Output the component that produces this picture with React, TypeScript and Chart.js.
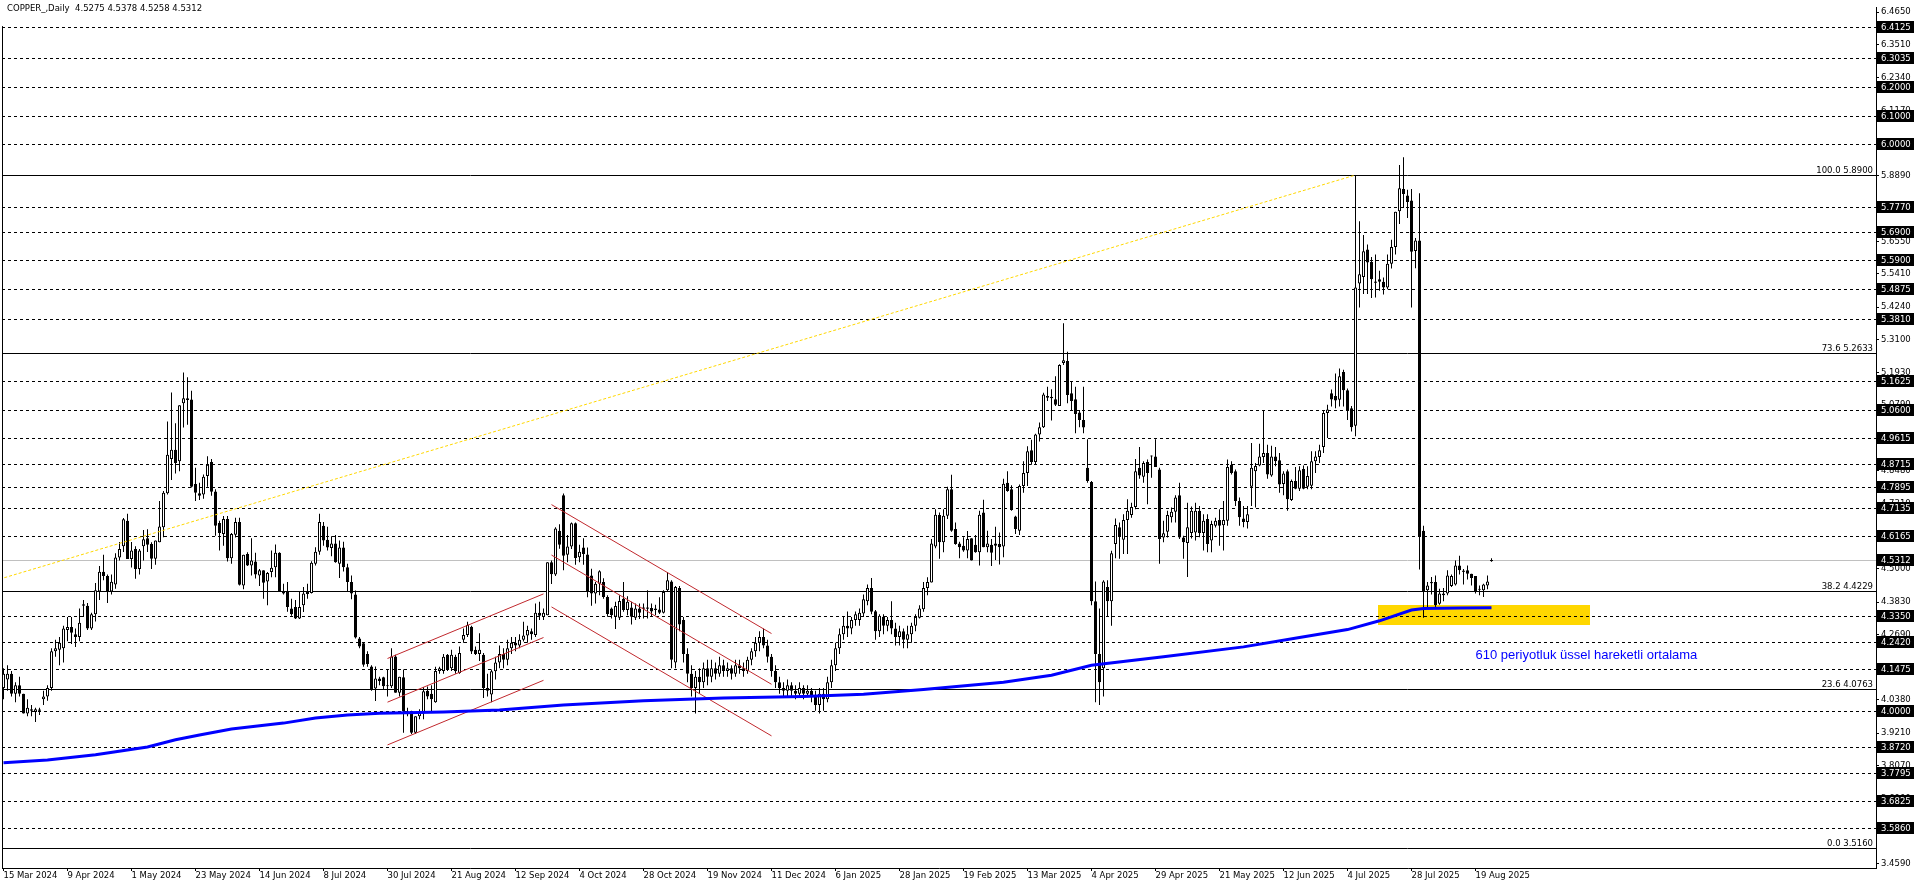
import React, { useEffect, useRef } from 'react';
import { Chart, registerables } from 'chart.js';

Chart.register(...registerables);

const symbolTitle = 'COPPER_,Daily  4.5275 4.5378 4.5258 4.5312';

// Daily bars [open, high, low, close]; bar 0 = 15 Mar 2024
const candles: number[][] = [
  // 0
  [4.08,4.15,4.04,4.13],[4.11,4.16,4.07,4.13],[4.13,4.14,4.05,4.06],[4.06,4.10,4.03,4.09],[4.09,4.12,4.05,4.06],
  [4.06,4.06,3.99,3.99],[3.99,4.04,3.98,4.01],[4.005,4.02,3.98,4.0],[3.995,4.01,3.96,4.005],[4.0,4.01,3.985,4.0],
  // 10
  [4.04,4.07,4.02,4.05],[4.05,4.09,4.035,4.08],[4.08,4.22,4.07,4.21],[4.21,4.25,4.19,4.22],[4.215,4.26,4.16,4.24],
  [4.22,4.30,4.17,4.29],[4.285,4.33,4.245,4.295],[4.295,4.33,4.235,4.275],[4.27,4.29,4.225,4.26],[4.26,4.36,4.245,4.31],
  // 20
  [4.375,4.39,4.33,4.37],[4.37,4.38,4.285,4.29],[4.29,4.345,4.285,4.34],[4.34,4.45,4.315,4.425],[4.42,4.51,4.39,4.49],
  [4.49,4.55,4.46,4.475],[4.475,4.48,4.38,4.42],[4.42,4.48,4.41,4.455],[4.445,4.555,4.43,4.54],[4.54,4.595,4.53,4.57],
  // 30
  [4.58,4.68,4.56,4.675],[4.67,4.695,4.535,4.535],[4.535,4.595,4.505,4.565],[4.57,4.58,4.465,4.5],[4.5,4.57,4.48,4.565],
  [4.58,4.637,4.53,4.605],[4.608,4.64,4.56,4.585],[4.588,4.594,4.5,4.536],[4.536,4.6,4.515,4.6],[4.594,4.74,4.594,4.65],
  // 40
  [4.647,4.775,4.612,4.769],[4.767,5.02,4.763,4.903],[4.888,5.123,4.814,4.921],[4.921,5.014,4.837,4.874],[4.88,5.078,4.845,5.078],
  [5.085,5.193,4.999,5.102],[5.102,5.176,5.009,5.096],[5.098,5.129,4.787,4.79],[4.8,4.857,4.74,4.769],[4.767,4.804,4.743,4.758],
  // 50
  [4.763,4.833,4.748,4.825],[4.828,4.898,4.79,4.868],[4.877,4.888,4.758,4.772],[4.773,4.781,4.617,4.652],[4.662,4.67,4.565,4.627],
  [4.623,4.687,4.582,4.676],[4.676,4.687,4.526,4.538],[4.538,4.627,4.518,4.623],[4.621,4.681,4.611,4.666],[4.666,4.681,4.442,4.444],
  // 60
  [4.442,4.55,4.428,4.55],[4.553,4.559,4.51,4.512],[4.512,4.608,4.477,4.53],[4.526,4.557,4.466,4.48],[4.477,4.5,4.44,4.495],
  [4.495,4.495,4.395,4.451],[4.456,4.489,4.372,4.486],[4.489,4.565,4.471,4.504],[4.506,4.586,4.471,4.557],[4.557,4.559,4.419,4.421],
  // 70
  [4.421,4.448,4.41,4.413],[4.419,4.454,4.349,4.366],[4.36,4.395,4.335,4.34],[4.366,4.39,4.323,4.325],[4.325,4.42,4.323,4.366],
  [4.372,4.436,4.348,4.413],[4.412,4.448,4.395,4.419],[4.415,4.527,4.413,4.522],[4.518,4.577,4.512,4.561],[4.561,4.695,4.55,4.666],
  // 80
  [4.652,4.666,4.582,4.6],[4.603,4.649,4.565,4.576],[4.574,4.615,4.545,4.59],[4.59,4.62,4.522,4.524],[4.518,4.6,4.468,4.576],
  [4.576,4.596,4.491,4.506],[4.506,4.518,4.421,4.454],[4.454,4.477,4.393,4.413],[4.41,4.424,4.255,4.258],[4.255,4.26,4.22,4.226],
  // 90
  [4.238,4.24,4.155,4.162],[4.2,4.21,4.155,4.165],[4.156,4.16,4.07,4.074],[4.078,4.156,4.034,4.113],[4.113,4.12,4.09,4.105],
  [4.118,4.12,4.074,4.086],[4.086,4.145,4.05,4.09],[4.086,4.22,4.08,4.191],[4.191,4.197,4.063,4.063],[4.063,4.12,4.05,4.12],
  // 100
  [4.118,4.145,3.922,3.998],[3.998,4.01,3.98,3.987],[3.998,4.0,3.918,3.922],[3.922,3.98,3.918,3.98],[3.98,4.005,3.97,3.998],
  [3.99,4.083,3.97,4.068],[4.07,4.085,4.04,4.05],[4.06,4.09,3.998,4.04],[4.03,4.155,4.028,4.14],[4.14,4.155,4.13,4.15],
  // 110
  [4.14,4.2,4.13,4.19],[4.197,4.2,4.14,4.145],[4.15,4.215,4.14,4.197],[4.19,4.197,4.13,4.139],[4.133,4.226,4.13,4.203],
  [4.25,4.29,4.24,4.267],[4.267,4.314,4.26,4.302],[4.296,4.3,4.2,4.209],[4.215,4.226,4.196,4.2],[4.2,4.273,4.175,4.215],
  // 120
  [4.197,4.203,4.045,4.08],[4.08,4.13,4.05,4.07],[4.057,4.145,4.03,4.139],[4.139,4.19,4.11,4.17],[4.17,4.23,4.15,4.2],
  [4.2,4.22,4.15,4.18],[4.18,4.25,4.16,4.22],[4.22,4.26,4.2,4.24],[4.24,4.26,4.21,4.23],[4.23,4.27,4.22,4.25],
  // 130
  [4.25,4.314,4.244,4.265],[4.265,4.3,4.24,4.285],[4.28,4.29,4.25,4.27],[4.267,4.378,4.26,4.345],[4.345,4.384,4.32,4.335],
  [4.33,4.36,4.32,4.345],[4.337,4.524,4.337,4.524],[4.524,4.53,4.447,4.481],[4.48,4.647,4.475,4.643],[4.635,4.658,4.571,4.585],
  // 140
  [4.76,4.766,4.495,4.547],[4.55,4.62,4.524,4.579],[4.579,4.664,4.57,4.661],[4.661,4.664,4.515,4.539],[4.541,4.585,4.524,4.561],
  [4.576,4.608,4.515,4.553],[4.551,4.576,4.4,4.419],[4.477,4.501,4.37,4.413],[4.413,4.454,4.378,4.448],[4.448,4.495,4.407,4.492],
  // 150
  [4.454,4.467,4.395,4.401],[4.401,4.407,4.331,4.341],[4.36,4.364,4.325,4.337],[4.331,4.384,4.288,4.369],[4.328,4.407,4.32,4.387],
  [4.395,4.454,4.349,4.355],[4.355,4.404,4.337,4.384],[4.364,4.384,4.304,4.331],[4.328,4.378,4.32,4.36],[4.36,4.378,4.323,4.345],
  // 160
  [4.36,4.378,4.325,4.36],[4.36,4.425,4.325,4.36],[4.362,4.378,4.331,4.35],[4.36,4.374,4.337,4.355],[4.357,4.4,4.341,4.345],
  [4.345,4.425,4.343,4.419],[4.425,4.489,4.421,4.46],[4.456,4.46,4.15,4.18],[4.17,4.44,4.15,4.436],[4.433,4.44,4.28,4.304],
  // 170
  [4.32,4.33,4.17,4.2],[4.2,4.22,4.1,4.13],[4.13,4.16,4.05,4.08],[4.08,4.14,3.99,4.12],[4.12,4.15,4.06,4.1],
  [4.1,4.17,4.08,4.15],[4.15,4.18,4.09,4.12],[4.12,4.18,4.1,4.15],[4.15,4.17,4.11,4.13],[4.13,4.19,4.12,4.16],
  // 180
  [4.16,4.18,4.12,4.14],[4.14,4.17,4.12,4.15],[4.15,4.16,4.11,4.13],[4.13,4.18,4.12,4.16],[4.16,4.18,4.13,4.15],
  [4.15,4.17,4.12,4.14],[4.14,4.19,4.13,4.18],[4.18,4.22,4.16,4.21],[4.21,4.26,4.19,4.24],[4.24,4.28,4.21,4.26],
  // 190
  [4.26,4.29,4.22,4.23],[4.23,4.25,4.17,4.19],[4.19,4.2,4.12,4.14],[4.14,4.16,4.08,4.1],[4.1,4.12,4.06,4.08],
  [4.08,4.1,4.05,4.07],[4.07,4.11,4.05,4.09],[4.09,4.1,4.05,4.07],[4.07,4.09,4.04,4.06],[4.06,4.1,4.05,4.08],
  // 200
  [4.08,4.09,4.04,4.06],[4.06,4.09,4.05,4.07],[4.07,4.08,4.03,4.05],[4.05,4.07,4.0,4.02],[4.02,4.08,3.99,4.06],
  [4.06,4.08,4.0,4.04],[4.04,4.12,4.03,4.1],[4.1,4.18,4.08,4.16],[4.16,4.24,4.14,4.22],[4.22,4.29,4.2,4.27],
  // 210
  [4.27,4.33,4.25,4.3],[4.3,4.35,4.26,4.29],[4.29,4.33,4.27,4.32],[4.32,4.35,4.3,4.34],[4.32,4.36,4.3,4.345],
  [4.343,4.41,4.33,4.393],[4.386,4.445,4.372,4.433],[4.433,4.468,4.34,4.349],[4.351,4.355,4.25,4.28],[4.28,4.34,4.26,4.335],
  // 220
  [4.331,4.34,4.27,4.3],[4.3,4.33,4.28,4.32],[4.32,4.386,4.27,4.29],[4.29,4.31,4.23,4.26],[4.26,4.3,4.23,4.28],
  [4.28,4.29,4.22,4.25],[4.25,4.3,4.22,4.27],[4.27,4.31,4.24,4.3],[4.3,4.34,4.28,4.33],[4.328,4.372,4.325,4.36],
  // 230
  [4.358,4.454,4.349,4.433],[4.433,4.471,4.407,4.454],[4.452,4.606,4.452,4.59],[4.579,4.711,4.573,4.691],[4.69,4.699,4.536,4.594],
  [4.594,4.711,4.559,4.688],[4.688,4.79,4.676,4.781],[4.781,4.832,4.631,4.635],[4.641,4.664,4.585,4.588],[4.59,4.596,4.538,4.577],
  // 240
  [4.582,4.612,4.561,4.565],[4.565,4.634,4.538,4.606],[4.608,4.608,4.53,4.53],[4.585,4.62,4.557,4.559],[4.559,4.705,4.512,4.691],
  [4.699,4.744,4.577,4.577],[4.577,4.635,4.559,4.59],[4.585,4.606,4.51,4.557],[4.59,4.649,4.532,4.582],[4.588,4.629,4.516,4.577],
  // 250
  [4.579,4.818,4.541,4.801],[4.804,4.845,4.772,4.775],[4.781,4.795,4.705,4.708],[4.685,4.688,4.623,4.641],[4.635,4.798,4.62,4.793],
  [4.793,4.88,4.769,4.839],[4.839,4.933,4.793,4.915],[4.919,4.956,4.868,4.877],[4.877,4.977,4.868,4.974],[4.974,5.017,4.95,5.0],
  // 260
  [5.0,5.122,4.997,5.116],[5.104,5.143,5.093,5.11],[5.108,5.134,5.024,5.102],[5.099,5.18,5.075,5.079],[5.075,5.222,5.075,5.22],
  [5.227,5.367,5.22,5.236],[5.234,5.266,5.085,5.114],[5.12,5.161,5.061,5.093],[5.099,5.143,4.979,5.047],[5.052,5.061,5.0,5.026],
  // 270
  [5.026,5.143,4.979,4.999],[4.857,4.958,4.804,4.81],[4.807,4.81,4.372,4.386],[4.386,4.456,4.03,4.2],[4.2,4.36,4.02,4.1],
  [4.15,4.46,4.05,4.456],[4.436,4.46,4.33,4.386],[4.386,4.564,4.3,4.555],[4.588,4.678,4.538,4.655],[4.647,4.664,4.536,4.614],
  // 280
  [4.603,4.693,4.553,4.673],[4.673,4.746,4.553,4.705],[4.69,4.734,4.681,4.719],[4.719,4.888,4.711,4.845],[4.857,4.93,4.818,4.83],
  [4.825,4.88,4.804,4.874],[4.877,4.886,4.728,4.839],[4.897,4.9,4.822,4.9],[4.897,4.958,4.86,4.86],[4.851,4.857,4.518,4.606],
  // 290
  [4.611,4.67,4.594,4.626],[4.631,4.705,4.611,4.69],[4.682,4.717,4.664,4.702],[4.702,4.76,4.664,4.752],[4.76,4.804,4.606,4.611],
  [4.611,4.617,4.536,4.594],[4.592,4.734,4.472,4.647],[4.627,4.72,4.607,4.705],[4.629,4.734,4.6,4.705],[4.705,4.722,4.612,4.627],
  // 300
  [4.627,4.693,4.565,4.67],[4.676,4.693,4.559,4.588],[4.6,4.67,4.559,4.659],[4.652,4.681,4.646,4.67],[4.673,4.711,4.582,4.652],
  [4.654,4.74,4.565,4.673],[4.67,4.886,4.652,4.86],[4.868,4.88,4.833,4.839],[4.845,4.851,4.722,4.74],[4.74,4.752,4.652,4.682],
  // 310
  [4.678,4.722,4.647,4.666],[4.666,4.722,4.643,4.693],[4.79,4.944,4.722,4.857],[4.845,4.874,4.717,4.863],[4.865,4.942,4.862,4.897],
  [4.895,5.059,4.874,4.909],[4.909,4.938,4.818,4.833],[4.83,4.935,4.825,4.897],[4.897,4.93,4.862,4.88],[4.884,4.909,4.769,4.798],
  // 320
  [4.8,4.845,4.76,4.837],[4.845,4.851,4.705,4.746],[4.743,4.816,4.74,4.81],[4.81,4.86,4.781,4.783],[4.783,4.862,4.775,4.848],
  [4.853,4.865,4.781,4.783],[4.79,4.862,4.781,4.828],[4.794,4.915,4.781,4.88],[4.88,4.915,4.839,4.897],[4.895,4.938,4.874,4.919],
  // 330
  [4.93,5.059,4.909,5.05],[5.05,5.079,4.962,5.063],[5.12,5.133,5.073,5.098],[5.11,5.19,5.067,5.094],[5.097,5.207,5.073,5.18],
  [5.195,5.203,5.073,5.131],[5.131,5.137,5.026,5.059],[5.067,5.075,4.985,5.0],[5.005,5.888,4.968,5.493],[5.507,5.727,5.423,5.54],
  // 340
  [5.53,5.678,5.47,5.621],[5.627,5.645,5.47,5.581],[5.584,5.601,5.456,5.522],[5.51,5.61,5.458,5.51],[5.522,5.552,5.482,5.513],
  [5.513,5.528,5.468,5.493],[5.493,5.61,5.487,5.577],[5.577,5.662,5.56,5.636],[5.636,5.76,5.61,5.76],[5.762,5.925,5.717,5.843],
  // 350
  [5.841,5.953,5.774,5.823],[5.818,5.838,5.738,5.795],[5.8,5.841,5.423,5.619],[5.622,5.668,5.561,5.659],[5.659,5.826,4.498,4.615],
  [4.635,4.652,4.328,4.421],[4.425,4.454,4.366,4.442],[4.45,4.472,4.41,4.45],[4.454,4.477,4.366,4.372],[4.377,4.43,4.374,4.413],
  // 360
  [4.407,4.433,4.386,4.413],[4.413,4.495,4.407,4.477],[4.44,4.48,4.436,4.475],[4.445,4.53,4.442,4.512],[4.512,4.547,4.48,4.495],
  [4.49,4.5,4.445,4.49],[4.495,4.512,4.463,4.483],[4.483,4.483,4.442,4.468],[4.475,4.475,4.413,4.421],[4.428,4.442,4.407,4.427],
  // 370
  [4.425,4.448,4.401,4.445],[4.442,4.477,4.428,4.456],[4.5275,4.5378,4.5258,4.5312],
];

const dateTickBars = [0,16,32,48,64,80,96,112,128,144,160,176,192,208,224,240,256,272,288,304,320,336,352,368];
const dateTickLabels = ['15 Mar 2024','9 Apr 2024','1 May 2024','23 May 2024','14 Jun 2024','8 Jul 2024','30 Jul 2024','21 Aug 2024','12 Sep 2024','4 Oct 2024','28 Oct 2024','19 Nov 2024','11 Dec 2024','6 Jan 2025','28 Jan 2025','19 Feb 2025','13 Mar 2025','4 Apr 2025','29 Apr 2025','21 May 2025','12 Jun 2025','4 Jul 2025','28 Jul 2025','19 Aug 2025'];

const priceTicks = [3.459,3.573,3.69,3.807,3.921,4.038,4.152,4.269,4.383,4.5,4.615,4.731,4.848,4.962,5.079,5.193,5.31,5.424,5.541,5.655,5.772,5.889,6.003,6.117,6.234,6.351,6.465];

const dashedLevels = [6.4125,6.3035,6.2,6.1,6.0,5.777,5.69,5.59,5.4875,5.381,5.1625,5.06,4.9615,4.8715,4.7895,4.7135,4.6165,4.335,4.242,4.1475,4.0,3.872,3.7795,3.6825,3.586];
const fibLevels = [5.89,5.2633,4.4229,4.0763,3.516];
const fibNames = ['100.0','73.6','38.2','23.6','0.0'];
const bidPrice = 4.5312;

// EMA(610) read at selected bars: [bar, price]
const emaPoints: number[][] = [
  [0,3.816],[11,3.826],[23,3.844],[36,3.872],[43,3.897],[49,3.914],[57,3.935],[70,3.956],[78,3.974],[86,3.985],
  [94,3.991],[110,3.995],[124,4.002],[140,4.02],[160,4.035],[180,4.045],[200,4.05],[215,4.058],[230,4.075],[250,4.1],
  [262,4.125],[272,4.16],[290,4.19],[310,4.225],[324,4.258],[336,4.286],[344,4.317],[352,4.355],[355,4.36],[364,4.362],[372,4.363],
];

const fibTrend: number[][] = [[-1,4.464],[338,5.89]];
const upChannel: number[][][] = [[[96,4.184],[135,4.412]],[[96,4.03],[135,4.258]],[[96,3.879],[135,4.107]]];
const downChannel: number[][][] = [[[137,4.727],[192,4.272]],[[137,4.549],[192,4.093]],[[137,4.366],[192,3.911]]];
const zone = { from: 344, to: 396, top: 4.373, bottom: 4.303 };
const emaNote = { text: '610 periyotluk üssel hareketli ortalama', bar: 368, price: 4.195 };

const FONT = '"DejaVu Sans"';

const overlayPlugin = {
  id: 'mtOverlay',
  beforeDatasetsDraw(chart: any) {
    const { ctx, chartArea: a, scales } = chart;
    const x = scales.x, y = scales.y;
    ctx.save();
    ctx.beginPath();
    ctx.rect(a.left, a.top, a.right - a.left, a.bottom - a.top);
    ctx.clip();
    const zx0 = Math.round(x.getPixelForValue(zone.from - 0.5));
    const zx1 = Math.round(x.getPixelForValue(zone.to + 0.5));
    const zy0 = Math.round(y.getPixelForValue(zone.top));
    const zy1 = Math.round(y.getPixelForValue(zone.bottom));
    ctx.fillStyle = '#FFD700';
    ctx.fillRect(zx0, zy0, zx1 - zx0, zy1 - zy0);
    const hline = (p: number, color: string, dash: number[]) => {
      const py = Math.round(y.getPixelForValue(p)) + 0.5;
      ctx.strokeStyle = color;
      ctx.setLineDash(dash);
      ctx.lineWidth = 1;
      ctx.beginPath();
      ctx.moveTo(a.left, py);
      ctx.lineTo(a.right, py);
      ctx.stroke();
    };
    dashedLevels.forEach((p) => hline(p, '#000', [3, 3]));
    hline(bidPrice, '#C0C0C0', []);
    fibLevels.forEach((p) => hline(p, '#000', []));
    ctx.restore();
  },
  afterDraw(chart: any) {
    const { ctx, chartArea: a, scales } = chart;
    const x = scales.x, y = scales.y;
    ctx.save();
    // left frame
    ctx.fillStyle = '#000';
    ctx.fillRect(a.left, a.top + 19, 1, a.bottom - a.top - 19);
    ctx.font = `8.5px ${FONT}`;
    // fib labels
    ctx.textAlign = 'right';
    ctx.textBaseline = 'alphabetic';
    fibLevels.forEach((p, k) => {
      const py = Math.round(y.getPixelForValue(p));
      ctx.fillText(`${fibNames[k]} ${p.toFixed(4)}`, a.right - 3, py - 2);
    });
    // price tags
    ctx.textAlign = 'left';
    ctx.textBaseline = 'middle';
    [...dashedLevels, bidPrice].forEach((p) => {
      const py = Math.round(y.getPixelForValue(p));
      ctx.fillStyle = '#000';
      ctx.fillRect(a.right + 1, py - 6, 37, 12);
      ctx.fillStyle = '#fff';
      ctx.fillText(p.toFixed(4), a.right + 5, py + 0.5);
    });
    // title
    ctx.fillStyle = '#000';
    ctx.fillText(symbolTitle, 7, 9);
    // EMA note
    ctx.font = '13px "Liberation Sans"';
    ctx.fillStyle = '#0000FF';
    ctx.fillText(emaNote.text, x.getPixelForValue(emaNote.bar), y.getPixelForValue(emaNote.price));
    ctx.restore();
  },
};

const Y_MAX = 6.48258;
const Y_MIN = 3.44474;

export default function App() {
  const ref = useRef<HTMLCanvasElement | null>(null);
  useEffect(() => {
    document.body.style.margin = '0';
    const canvas = ref.current;
    if (!canvas) return;

    const bodyColor = (c: number[]) => (Math.abs(c[3] - c[0]) < 0.0005 ? '#000' : c[3] > c[0] ? '#fff' : '#000');

    const lineDs = (pts: number[][], color: string, width: number, dash: number[], order: number) => ({
      type: 'line',
      data: pts.map((p) => ({ x: p[0], y: p[1] })),
      borderColor: color,
      borderWidth: width,
      borderDash: dash,
      pointRadius: 0,
      tension: 0,
      fill: false,
      order,
    });

    const datasets: any[] = [
      lineDs(emaPoints, '#0000FF', 3, [], 0),
      lineDs(fibTrend, '#FFD700', 1, [3, 2], 1),
      ...upChannel.map((l) => lineDs(l, '#C0282D', 1, [], 1)),
      ...downChannel.map((l) => lineDs(l, '#C0282D', 1, [], 1)),
      {
        type: 'bar',
        data: candles.map((c, i) => ({ x: i, y: [c[0], c[3]] })),
        backgroundColor: (ctx: any) => bodyColor(candles[ctx.dataIndex] || [0, 0, 0, 0]),
        borderColor: '#000',
        borderWidth: (ctx: any) => {
          const c = candles[ctx.dataIndex] || [0, 0, 0, 0];
          return Math.abs(c[3] - c[0]) < 0.0005 ? 0 : 1;
        },
        borderSkipped: false,
        inflateAmount: 0,
        grouped: false,
        barPercentage: 1,
        categoryPercentage: 1,
        maxBarThickness: 3,
        minBarLength: 1,
        order: 2,
      },
      {
        type: 'bar',
        data: candles.map((c, i) => ({ x: i, y: [c[2], c[1]] })),
        backgroundColor: '#000',
        borderWidth: 0,
        borderSkipped: false,
        inflateAmount: 0,
        grouped: false,
        barPercentage: 1,
        categoryPercentage: 1,
        maxBarThickness: 1,
        minBarLength: 1,
        order: 3,
      },
    ];

    const chart = new Chart(canvas, {
      type: 'bar',
      data: { datasets },
      plugins: [overlayPlugin],
      options: {
        animation: false,
        responsive: false,
        events: [],
        layout: { padding: { left: 2, top: 1, right: 0, bottom: 0 } },
        plugins: { legend: { display: false }, tooltip: { enabled: false }, title: { display: false } },
        scales: {
          x: {
            type: 'linear',
            position: 'bottom',
            min: -0.375,
            max: 468.125,
            offset: false,
            afterFit: (s: any) => { s.height = 20; },
            afterBuildTicks: (s: any) => { s.ticks = dateTickBars.map((v) => ({ value: v })); },
            grid: { display: true, drawOnChartArea: false, drawTicks: true, tickLength: 3, color: '#000', offset: false },
            border: { display: true, color: '#000', width: 1 },
            ticks: {
              autoSkip: false,
              maxRotation: 0,
              minRotation: 0,
              align: 'start',
              padding: 0,
              color: '#000',
              font: { family: 'DejaVu Sans', size: 8.5 },
              callback: (_v: any, idx: number) => dateTickLabels[idx] ?? '',
            },
          },
          y: {
            type: 'linear',
            position: 'right',
            min: Y_MIN,
            max: Y_MAX,
            afterFit: (s: any) => { s.width = 40; },
            afterBuildTicks: (s: any) => { s.ticks = priceTicks.map((v) => ({ value: v })); },
            grid: { display: true, drawOnChartArea: false, drawTicks: true, tickLength: 3, color: '#000' },
            border: { display: true, color: '#000', width: 1 },
            ticks: {
              autoSkip: false,
              padding: 2,
              color: '#000',
              font: { family: 'DejaVu Sans', size: 8.5 },
              callback: (v: any) => Number(v).toFixed(4),
            },
          },
        },
      } as any,
    } as any);
    return () => chart.destroy();
  }, []);

  return <canvas ref={ref} width={1916} height={888} style={{ display: 'block' }} />;
}
